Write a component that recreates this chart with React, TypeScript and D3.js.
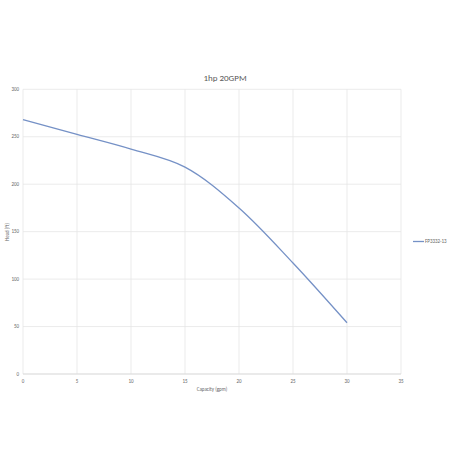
import React from "react";
import * as d3 from "d3";

const capacity = [0, 5, 10, 15, 20, 25, 30];
const head = [268, 252.5, 237, 218, 175, 117, 54];
const xTicks = [0, 5, 10, 15, 20, 25, 30, 35];
const yTicks = [0, 50, 100, 150, 200, 250, 300];
const title = "1hp 20GPM";
const seriesName = "FP3332-13";
const xLabel = "Capacity (gpm)";
const yLabel = "Head (ft)";

export default function App() {
  const W = 450, H = 450;
  const left = 23, right = 401, top = 89.3, bottom = 374;
  const x = d3.scaleLinear().domain([0, 35]).range([left, right]);
  const y = d3.scaleLinear().domain([0, 300]).range([bottom, top]);
  const line = d3
    .line<number>()
    .x((_, i) => x(capacity[i]))
    .y((d) => y(d))
    .curve(d3.curveCatmullRom.alpha(0.5));
  const font = "Calibri, Carlito, 'Liberation Sans', 'Open Sans', sans-serif";
  const grid = "#e6e6e6";
  const tickColor = "#666666";
  return (
    <svg width={W} height={H} style={{ position: "absolute", left: 0, top: 0 }} fontFamily={font}>
      <rect x={0} y={0} width={W} height={H} fill="#fff" />
      <text x={225} y={81} textAnchor="middle" fontSize={9} fill="#595959">{title}</text>
      {yTicks.map((t) => (
        <line key={"gy" + t} x1={left} x2={right} y1={y(t)} y2={y(t)} stroke={grid} strokeWidth={0.8} />
      ))}
      {xTicks.map((t) => (
        <line key={"gx" + t} x1={x(t)} x2={x(t)} y1={top} y2={bottom} stroke={grid} strokeWidth={0.8} />
      ))}
      <line x1={left} x2={right} y1={bottom} y2={bottom} stroke="#d9d9d9" strokeWidth={0.8} />
      {yTicks.map((t) => (
        <text key={"ty" + t} x={left - 4} y={y(t) + 1.7} textAnchor="end" fontSize={5} fill={tickColor}>{t}</text>
      ))}
      {xTicks.map((t) => (
        <text key={"tx" + t} x={x(t)} y={bottom + 8.5} textAnchor="middle" fontSize={5} fill={tickColor}>{t}</text>
      ))}
      <text x={212} y={391} textAnchor="middle" fontSize={5} fill={tickColor}>{xLabel}</text>
      <text transform={`translate(8.5,${232}) rotate(-90)`} textAnchor="middle" fontSize={5} fill={tickColor}>{yLabel}</text>
      <path d={line(head) ?? ""} fill="none" stroke="#7591c6" strokeWidth={1.3} />
      <line x1={413} x2={424} y1={241.5} y2={241.5} stroke="#7591c6" strokeWidth={1.3} />
      <text x={425} y={243.2} fontSize={5} fill={tickColor}>{seriesName}</text>
    </svg>
  );
}
